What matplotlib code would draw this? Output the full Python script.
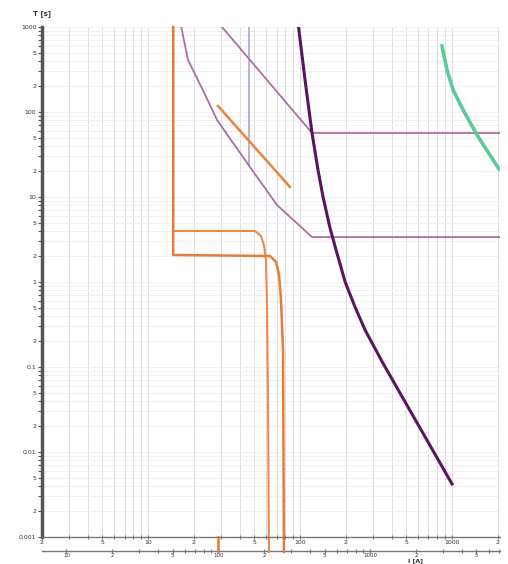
import matplotlib
matplotlib.use("Agg")
import matplotlib.pyplot as plt
from matplotlib.ticker import LogLocator, FuncFormatter, NullFormatter, FixedLocator
import math

# ---- data (current I [A], time T [s]) ----
fuse_min_I = [14.6, 14.6, 50.5, 55.3, 57.8, 59.6, 60.5, 61.5, 62.4]
fuse_min_t = [1000, 3.98, 3.98, 3.48, 2.72, 1.82, 0.61, 0.041, 0.00067]
fuse_max_I = [14.6, 14.6, 63.4, 69.5, 72.7, 74.9, 77.2, 78.3]
fuse_max_t = [1000, 2.08, 2.02, 1.72, 1.21, 0.61, 0.158, 0.00067]
marker_I = [28.8, 28.8]
marker_t = [0.001, 0.00067]
orange_seg_I = [28.8, 85.9]
orange_seg_t = [117.8, 13.1]
mauve_low_I = [16.5, 18.3, 22.9, 28.4, 46.8, 70.5, 119.8, 2070]
mauve_low_t = [1000, 409, 181, 80.5, 22.5, 8.05, 3.38, 3.38]
mauve_high_I = [30.6, 119.8, 2070]
mauve_high_t = [1000, 56.6, 56.6]
dark_I = [97.7, 107.8, 119.8, 131.2, 141.6, 157.4, 172.5, 198, 230, 268, 351, 1000]
dark_t = [1000, 238, 56.6, 20.8, 10, 4.32, 2.38, 1.0, 0.508, 0.272, 0.111, 0.00421]
green_I = [859, 927, 1017, 1183, 1462, 2040]
green_t = [598, 312, 181, 106, 53.6, 21.3]
gray_I = [46.1, 46.1]
gray_t = [1000, 23.8]
sec_factor = 3.45
sec_major = [10, 20, 50, 100, 200, 500, 1000, 2000, 5000]
sec_minor = [30, 40, 60, 70, 80, 90, 300, 400, 600, 700, 800, 900,
             3000, 4000, 6000, 7000]

fig = plt.figure(figsize=(5.08, 5.64), dpi=100)
ax = fig.add_axes([42/508, 1-537/564, (500-42)/508, 510/564])
ax.set_xscale("log")
ax.set_yscale("log")
ax.set_xlim(2, 2070)
ax.set_ylim(0.001, 1000)

def fmt(v, pos):
    e = math.floor(math.log10(v) + 1e-9)
    m = round(v / 10**e)
    if m == 1:
        if v >= 1:
            return "%d" % round(v)
        return ("%.*f" % (-e, v))
    return "%d" % m

for axis in (ax.xaxis, ax.yaxis):
    axis.set_major_locator(LogLocator(base=10, subs=(1, 2, 5)))
    axis.set_minor_locator(LogLocator(base=10, subs=(3, 4, 6, 7, 8, 9)))
    axis.set_major_formatter(FuncFormatter(fmt))
    axis.set_minor_formatter(NullFormatter())

ax.grid(True, which="both", axis="x", color="#d8d8dc", lw=0.6)
ax.grid(True, which="both", axis="y", color="#ececf0", lw=0.6)
for s in ("top", "right"):
    ax.spines[s].set_visible(False)
ax.spines["left"].set_color("#555555")
ax.spines["left"].set_linewidth(2.5)
ax.spines["bottom"].set_color("#777777")
ax.spines["bottom"].set_linewidth(1.0)
ax.tick_params(axis="y", which="both", direction="out", length=3, width=0.8,
               color="#555555", labelsize=4.5, pad=1, labelcolor="#333333")
ax.tick_params(axis="x", which="both", direction="inout", length=3, width=0.8,
               color="#777777", labelsize=4.5, pad=0.5, labelcolor="#333333")

sec = ax.secondary_xaxis(-0.0275, functions=(lambda x: x * sec_factor,
                                             lambda x: x / sec_factor))
sec.xaxis.set_major_locator(FixedLocator(sec_major))
sec.xaxis.set_minor_locator(FixedLocator(sec_minor))
sec.xaxis.set_major_formatter(FuncFormatter(fmt))
sec.xaxis.set_minor_formatter(NullFormatter())
sec.spines["bottom"].set_color("#777777")
sec.spines["bottom"].set_linewidth(1.0)
sec.tick_params(axis="x", which="both", direction="inout", length=2.5, width=0.8,
                color="#777777", labelsize=4, pad=0, labelcolor="#333333")

ax.plot(gray_I, gray_t, color="#a9a9c4", lw=1.2)
ax.plot(fuse_min_I, fuse_min_t, color="#ec8a4c", lw=1.5, clip_on=False)
ax.plot(fuse_max_I, fuse_max_t, color="#e67c3a", lw=1.8, clip_on=False)
ax.plot(marker_I, marker_t, color="#e67c3a", lw=1.8, clip_on=False)
ax.plot(orange_seg_I, orange_seg_t, color="#e8843e", lw=1.8)
ax.plot(mauve_low_I, mauve_low_t, color="#b06ca0", lw=1.3)
ax.plot(mauve_high_I, mauve_high_t, color="#b06ca0", lw=1.3)
ax.plot(dark_I, dark_t, color="#5a1462", lw=2.2)
ax.plot(green_I, green_t, color="#5ec99a", lw=2.6)

fig.text(42/508, 1-14/564, "T [s]", fontsize=5, fontweight="bold",
         ha="center", va="center", color="#333333")
fig.text(415/508, 0.5/564, "I [A]", fontsize=4.5, fontweight="bold",
         ha="center", va="bottom", color="#333333")

fig.savefig("out.png", dpi=100)
